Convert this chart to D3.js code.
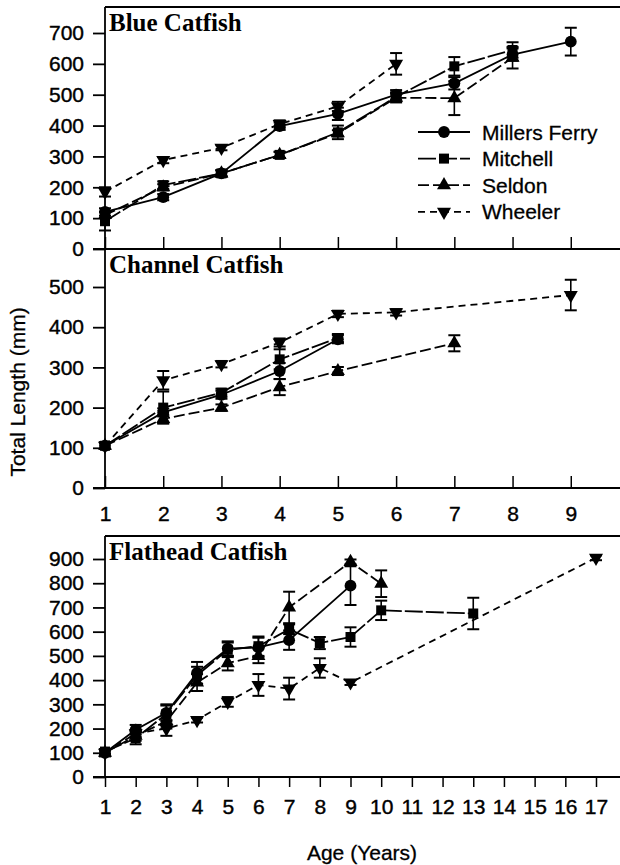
<!DOCTYPE html>
<html>
<head>
<meta charset="utf-8">
<script src="https://cdn.jsdelivr.net/npm/d3@7"></script>
<style>
  body { margin: 0; background: #fff; }
  svg { display: block; }
  .tick text { font-family: "Liberation Sans", Arial, sans-serif; font-size: 21px; fill: #000; stroke: #000; stroke-width: 0.4px; }
  .title { font-family: "Liberation Serif", "Times New Roman", serif; font-weight: bold; font-size: 25px; }
  .lab { font-family: "Liberation Sans", Arial, sans-serif; font-size: 21px; stroke: #000; stroke-width: 0.3px; }
</style>
</head>
<body>
<script>
// series names and line styles
const seriesNames = ["Millers Ferry", "Mitchell", "Seldon", "Wheeler"];
const symbols = ["circle", "square", "up", "down"];
const dashes = [null, "18,3", "11,4", "7,5"];

// Blue Catfish (mm) by age
const blueAges = [1, 2, 3, 4, 5, 6, 7, 8, 9];
const blueMillers = [120, 168, 245, 398, 438, 500, 537, 630, 672];
const blueMillersErr = [12, 10, 10, 12, 20, 15, 20, 20, 45];
const blueMitchell = [90, 207, 245, 305, 378, 493, 592, 645, null];
const blueMitchellErr = [30, 12, 10, 10, 22, 15, 30, 25, null];
const blueSeldon = [110, 200, 245, 305, 375, 490, 489, 620, null];
const blueSeldonErr = [10, 10, 10, 10, 10, 15, 55, 35, null];
const blueWheeler = [185, 288, 328, 405, 462, 600, null, null, null];
const blueWheelerErr = [15, 10, 8, 12, 15, 35, null, null, null];

// Channel Catfish
const channelAges = [1, 2, 3, 4, 5, 6, 7, 8, 9];
const channelMillers = [105, 188, 232, 291, 370, null, null, null, null];
const channelMillersErr = [8, 10, 10, 20, 10, null, null, null, null];
const channelMitchell = [105, 200, 237, 320, 373, null, null, null, null];
const channelMitchellErr = [8, 40, 10, 25, 10, null, null, null, null];
const channelSeldon = [105, 172, 200, 251, 291, null, 360, null, null];
const channelSeldonErr = [8, 10, 8, 20, 10, null, 20, null, null];
const channelWheeler = [105, 268, 308, 362, 433, 437, null, null, 480];
const channelWheelerErr = [8, 23, 8, 10, 8, 8, null, null, 38];

// Flathead Catfish
const flatAges = [1, 2, 3, 4, 5, 6, 7, 8, 9, 10, 13, 17];
const flatMillers = [100, 195, 265, 430, 530, 535, 565, null, 790, null, null, null];
const flatMillersErr = [15, 20, 30, 45, 30, 40, 40, null, 80, null, null, null];
const flatMitchell = [105, 160, 260, 420, 525, 540, 610, 553, 578, 688, 675, null];
const flatMitchellErr = [10, 25, 40, 35, 30, 40, 20, 25, 40, 40, 65, null];
const flatSeldon = [100, 170, 230, 390, 470, 500, 700, null, 888, 798, null, null];
const flatSeldonErr = [10, 20, 30, 35, 30, 30, 65, null, 10, 55, null, null];
const flatWheeler = [100, 180, 200, 235, 310, 380, 365, 450, 390, null, null, 905];
const flatWheelerErr = [10, 15, 30, 10, 20, 45, 45, 40, 10, null, null, 10];

const panels = [
  { title: "Blue Catfish", ages: blueAges,
    vals: [blueMillers, blueMitchell, blueSeldon, blueWheeler],
    errs: [blueMillersErr, blueMitchellErr, blueSeldonErr, blueWheelerErr],
    xDom: [1, 10], xRange: [105, 629], xTicks: d3.range(1, 10), labels: false,
    yMax: 700, yRange: [249, 33], top: 7, legend: true },
  { title: "Channel Catfish", ages: channelAges,
    vals: [channelMillers, channelMitchell, channelSeldon, channelWheeler],
    errs: [channelMillersErr, channelMitchellErr, channelSeldonErr, channelWheelerErr],
    xDom: [1, 10], xRange: [105, 629], xTicks: d3.range(1, 10), labels: true,
    yMax: 500, yRange: [488, 287], top: 249 },
  { title: "Flathead Catfish", ages: flatAges,
    vals: [flatMillers, flatMitchell, flatSeldon, flatWheeler],
    errs: [flatMillersErr, flatMitchellErr, flatSeldonErr, flatWheelerErr],
    xDom: [1, 17], xRange: [105, 596], xTicks: d3.range(1, 18), labels: true, down: true,
    yMax: 900, yRange: [777, 559], top: 536 }
];

const svg = d3.select("body").append("svg")
  .attr("width", 620).attr("height", 865);

function symbolPath(kind) {
  if (kind === "circle") return d3.symbol(d3.symbolCircle, 110)();
  if (kind === "square") return d3.symbol(d3.symbolSquare, 100)();
  return d3.symbol(d3.symbolTriangle, 85)();
}
function drawMarker(g, kind, x, y) {
  g.append("path")
    .attr("d", symbolPath(kind))
    .attr("transform", "translate(" + x + "," + y + ")" + (kind === "down" ? " rotate(180)" : ""))
    .attr("fill", "#000");
}

panels.forEach((p) => {
  const x = d3.scaleLinear().domain(p.xDom).range(p.xRange);
  const y = d3.scaleLinear().domain([0, p.yMax]).range(p.yRange);
  const g = svg.append("g");

  // top frame and left axis
  g.append("line").attr("x1", 105).attr("x2", 620).attr("y1", p.top).attr("y2", p.top)
    .attr("stroke", "#000").attr("stroke-width", 1.8);
  g.append("line").attr("x1", 105).attr("x2", 105).attr("y1", p.top).attr("y2", p.yRange[0])
    .attr("stroke", "#000").attr("stroke-width", 1.8);

  const ya = g.append("g").attr("transform", "translate(105,0)")
    .call(d3.axisLeft(y).tickValues(d3.range(0, p.yMax + 1, 100)).tickSize(12).tickPadding(9));
  ya.select(".domain").remove();
  ya.selectAll(".tick line").attr("stroke-width", 1.8);

  // bottom axis
  g.append("line").attr("x1", 93).attr("x2", 620).attr("y1", p.yRange[0]).attr("y2", p.yRange[0])
    .attr("stroke", "#000").attr("stroke-width", 1.8);
  const xa = g.append("g").attr("transform", "translate(0," + p.yRange[0] + ")")
    .call(d3.axisBottom(x).tickValues(p.xTicks)
      .tickSize(p.down ? 10 : -12).tickPadding(p.down ? 12 : 18)
      .tickFormat(p.labels ? d3.format("d") : ""));
  xa.select(".domain").remove();
  xa.selectAll(".tick line").attr("stroke-width", 1.5);

  g.append("text").attr("class", "title").attr("x", 109).attr("y", p.top + 24).text(p.title);

  // series
  p.vals.forEach((vals, si) => {
    const pts = p.ages.map((a, i) => ({ a: a, v: vals[i], e: p.errs[si][i] }))
      .filter((d) => d.v != null);
    g.append("path").datum(pts)
      .attr("fill", "none").attr("stroke", "#000").attr("stroke-width", 1.8)
      .attr("stroke-dasharray", dashes[si])
      .attr("d", d3.line().x((d) => x(d.a)).y((d) => y(d.v)));
    pts.forEach((d) => {
      const cx = x(d.a);
      if (d.e) {
        const y0 = y(d.v - d.e), y1 = y(d.v + d.e);
        g.append("line").attr("x1", cx).attr("x2", cx).attr("y1", y0).attr("y2", y1)
          .attr("stroke", "#000").attr("stroke-width", 1.6);
        [y0, y1].forEach((yy) => g.append("line")
          .attr("x1", cx - 6).attr("x2", cx + 6).attr("y1", yy).attr("y2", yy)
          .attr("stroke", "#000").attr("stroke-width", 2));
      }
      drawMarker(g, symbols[si], cx, y(d.v));
    });
  });

  if (p.legend) {
    const lg = g.append("g");
    seriesNames.forEach((name, i) => {
      const ly = 132 + i * 26.6;
      lg.append("line").attr("x1", 418).attr("x2", 470).attr("y1", ly).attr("y2", ly)
        .attr("stroke", "#000").attr("stroke-width", 1.8).attr("stroke-dasharray", dashes[i]);
      drawMarker(lg, symbols[i], 444, ly);
      lg.append("text").attr("class", "lab").attr("x", 482).attr("y", ly + 7.5).text(name);
    });
  }
});

svg.append("text").attr("class", "lab")
  .attr("transform", "translate(25,392) rotate(-90)")
  .attr("text-anchor", "middle").text("Total Length (mm)");
svg.append("text").attr("class", "lab")
  .attr("x", 362).attr("y", 860).attr("text-anchor", "middle").text("Age (Years)");
</script>
</body>
</html>
